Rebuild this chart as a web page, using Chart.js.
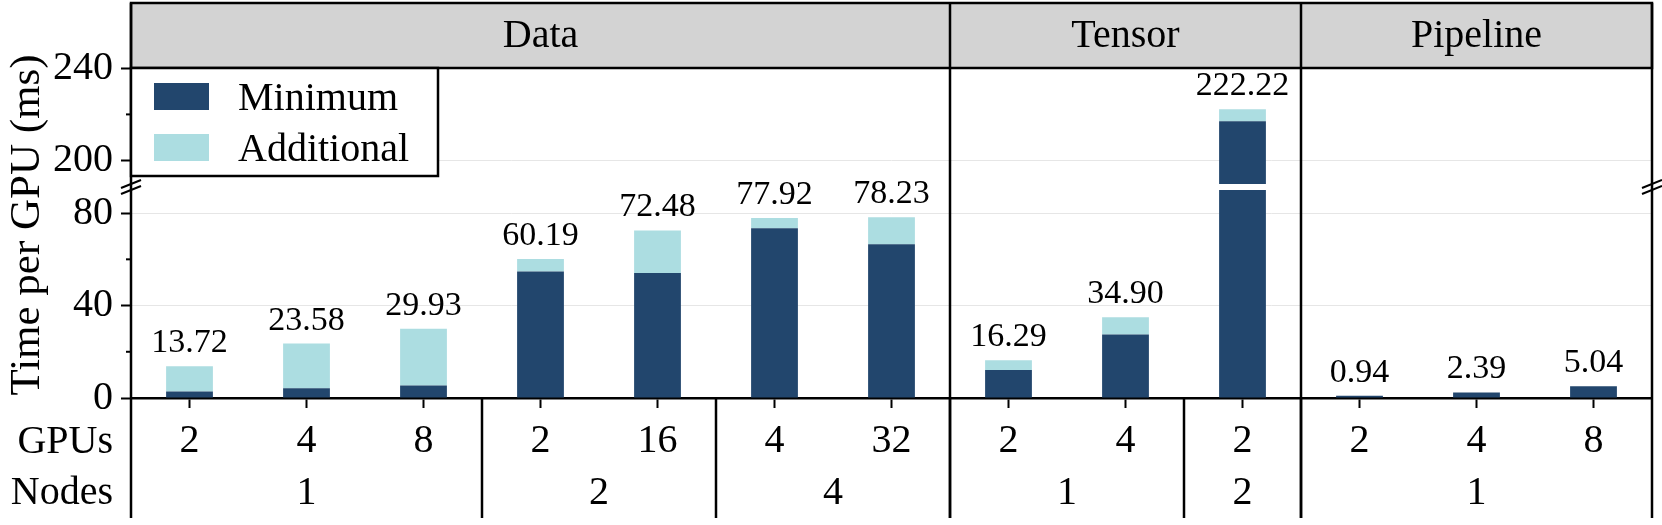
<!DOCTYPE html>
<html>
<head>
<meta charset="utf-8">
<script src="https://cdn.jsdelivr.net/npm/chart.js@4.4.0/dist/chart.umd.min.js"></script>
<style>
  html, body { margin: 0; padding: 0; background: #fff; }
  #wrap { width: 1662px; height: 525px; }
</style>
</head>
<body>
<div id="wrap"><canvas id="timeChart" width="1662" height="525"></canvas></div>
<script>
// valores (ms por GPU)
const strategies = ["Data", "Data", "Data", "Data", "Data", "Data", "Data", "Tensor", "Tensor", "Tensor", "Pipeline", "Pipeline", "Pipeline"];
const gpus = ["2", "4", "8", "2", "16", "4", "32", "2", "4", "2", "2", "4", "8"];
const nodes = ["1", "1", "1", "2", "2", "4", "4", "1", "1", "2", "1", "1", "1"];
const minimum = [2.8, 4.2, 5.4, 54.7, 54.1, 73.4, 66.5, 12.1, 27.5, 217.0, 0.94, 2.39, 5.04];
const additional = [10.92, 19.38, 24.53, 5.49, 18.38, 4.52, 11.73, 4.19, 7.40, 5.22, 0, 0, 0];
const totals = [13.72, 23.58, 29.93, 60.19, 72.48, 77.92, 78.23, 16.29, 34.90, 222.22, 0.94, 2.39, 5.04];

// eje Y cortado: tramo bajo y tramo alto
const lowerRange = [0, 90];
const upperRange = [190, 240];
const majorStep = 40;
const minorStep = 20;

const DARK = "#22466d";
const LIGHT = "#acdde1";
const FONT = "Liberation Serif";

Chart.defaults.font.family = FONT;
Chart.defaults.color = "#000";

const BOTTOM = 518;  // fin de las lineas verticales bajo el eje
const HEAD_TOP = 3;

function groupRuns(keyFn) {
  const runs = [];
  for (let i = 0; i < gpus.length; i++) {
    const k = keyFn(i);
    if (runs.length && runs[runs.length - 1].key === k) runs[runs.length - 1].to = i;
    else runs.push({ key: k, from: i, to: i });
  }
  return runs;
}

const framePlugin = {
  id: "frame",
  beforeDatasetDraw(chart, args) {
    const s = chart.scales[args.meta.yAxisID];
    const a = chart.chartArea;
    const ctx = chart.ctx;
    ctx.save();
    ctx.beginPath();
    ctx.rect(a.left, s.top, a.right - a.left, s.bottom - s.top);
    ctx.clip();
  },
  afterDatasetDraw(chart) {
    chart.ctx.restore();
  },
  afterDraw(chart) {
    const ctx = chart.ctx;
    const a = chart.chartArea;
    const x = chart.scales.x;
    const yLo = chart.scales.y;
    const yHi = chart.scales.yTop;
    const L = a.left, R = a.right, T = a.top, B = a.bottom;
    const boundary = i => (x.getPixelForValue(i - 1) + x.getPixelForValue(i)) / 2;

    ctx.save();
    ctx.strokeStyle = "#000";
    ctx.fillStyle = "#000";

    // ticks menores
    ctx.lineWidth = 2;
    [[yLo, lowerRange], [yHi, upperRange]].forEach(([s, r]) => {
      for (let v = Math.ceil(r[0] / minorStep) * minorStep; v <= r[1]; v += minorStep) {
        if (v % majorStep === 0) continue;
        const py = s.getPixelForValue(v);
        ctx.beginPath(); ctx.moveTo(L - 5, py); ctx.lineTo(L, py); ctx.stroke();
      }
    });

    // etiquetas de total
    ctx.font = "34px " + FONT;
    ctx.textAlign = "center";
    ctx.textBaseline = "alphabetic";
    totals.forEach((t, i) => {
      const s = t > lowerRange[1] ? yHi : yLo;
      ctx.fillText(t.toFixed(2), x.getPixelForValue(i), s.getPixelForValue(t) - 14);
    });

    // cabecera gris
    ctx.fillStyle = "#d3d3d3";
    ctx.fillRect(L, HEAD_TOP, R - L, T - HEAD_TOP);
    ctx.lineWidth = 2.5;
    ctx.strokeRect(L, HEAD_TOP, R - L, T - HEAD_TOP);

    const panels = groupRuns(i => strategies[i]);
    ctx.fillStyle = "#000";
    ctx.font = "40px " + FONT;
    ctx.textBaseline = "middle";
    panels.forEach(p => {
      const x0 = p.from === 0 ? L : boundary(p.from);
      const x1 = p.to === gpus.length - 1 ? R : boundary(p.to + 1);
      ctx.fillText(p.key, (x0 + x1) / 2, (HEAD_TOP + T) / 2 + 1);
      if (p.from > 0) {
        ctx.beginPath(); ctx.moveTo(x0, HEAD_TOP); ctx.lineTo(x0, BOTTOM); ctx.stroke();
      }
    });

    // bordes izquierdo y derecho
    ctx.beginPath();
    ctx.moveTo(L, HEAD_TOP); ctx.lineTo(L, BOTTOM);
    ctx.moveTo(R, HEAD_TOP); ctx.lineTo(R, BOTTOM);
    ctx.stroke();

    // grupos de nodos
    const nodeGroups = groupRuns(i => strategies[i] + "|" + nodes[i]);
    nodeGroups.forEach(g => {
      const cx = (x.getPixelForValue(g.from) + x.getPixelForValue(g.to)) / 2;
      ctx.fillText(nodes[g.from], cx, 493);
      if (g.from > 0) {
        const bx = boundary(g.from);
        ctx.beginPath(); ctx.moveTo(bx, B); ctx.lineTo(bx, BOTTOM); ctx.stroke();
      }
    });

    ctx.textAlign = "right";
    ctx.fillText("GPUs", L - 18, 442);
    ctx.fillText("Nodes", L - 18, 493);

    // marcas de corte
    const by = (yHi.bottom + yLo.top) / 2;
    ctx.lineWidth = 2;
    [L, R].forEach(bx => {
      [-3, 3].forEach(d => {
        ctx.beginPath();
        ctx.moveTo(bx - 10, by + d + 4);
        ctx.lineTo(bx + 10, by + d - 4);
        ctx.stroke();
      });
    });

    // titulo eje Y
    ctx.save();
    ctx.translate(28, 225);
    ctx.rotate(-Math.PI / 2);
    ctx.textAlign = "center";
    ctx.font = "43px " + FONT;
    ctx.fillText("Time per GPU (ms)", 0, 0);
    ctx.restore();

    // leyenda
    ctx.fillStyle = "#fff";
    ctx.fillRect(L, T, 307, 108);
    ctx.lineWidth = 2.5;
    ctx.strokeRect(L, T, 307, 108);
    [["Minimum", DARK], ["Additional", LIGHT]].forEach(([name, col], k) => {
      const top = T + 15 + k * 51;
      ctx.fillStyle = col;
      ctx.fillRect(L + 23, top, 55, 27);
      ctx.fillStyle = "#000";
      ctx.textAlign = "left";
      ctx.textBaseline = "alphabetic";
      ctx.fillText(name, L + 107, top + 27);
    });

    ctx.restore();
  }
};

function yScale(range, weight, stackWeight) {
  return {
    type: "linear",
    position: "left",
    stack: "broken",
    stackWeight,
    weight,
    stacked: true,
    min: range[0],
    max: range[1],
    border: { display: false },
    grid: {
      color: c => (c.tick && c.tick.value === 0 ? "rgba(0,0,0,0)" : "#e6e6e6"),
      lineWidth: 1,
      tickColor: "#000",
      tickLength: 10,
      tickWidth: 2
    },
    ticks: { stepSize: majorStep, includeBounds: false, font: { size: 40 }, color: "#000", padding: 8 },
    afterFit: s => { s.width = 131; }
  };
}

function barSet(label, data, color, axis) {
  return {
    label, data, backgroundColor: color, yAxisID: axis, stack: "t",
    grouped: false, barPercentage: 0.4, categoryPercentage: 1, borderWidth: 0
  };
}

const chart = new Chart(document.getElementById("timeChart"), {
  type: "bar",
  data: {
    labels: gpus,
    datasets: [
      barSet("Minimum", minimum, DARK, "y"),
      barSet("Additional", additional, LIGHT, "y"),
      barSet("Minimum", minimum, DARK, "yTop"),
      barSet("Additional", additional, LIGHT, "yTop")
    ]
  },
  options: {
    responsive: false,
    animation: false,
    layout: { padding: { left: 0, top: 68, right: 10, bottom: 0 } },
    plugins: { legend: { display: false }, tooltip: { enabled: false } },
    scales: {
      x: {
        stacked: true,
        grid: { offset: false, drawOnChartArea: false, tickLength: 10, tickColor: "#000", tickWidth: 2 },
        border: { display: true, color: "#000", width: 2.5 },
        ticks: { font: { size: 40 }, color: "#000", padding: 9, autoSkip: false, maxRotation: 0 },
        afterFit: s => { s.height = 127; }
      },
      yTop: yScale(upperRange, 3, 116),
      ySpace: { type: "linear", display: false, position: "left", stack: "broken", stackWeight: 6, weight: 2, min: 0, max: 1 },
      y: yScale(lowerRange, 1, 208)
    }
  },
  plugins: [framePlugin]
});
</script>
</body>
</html>
